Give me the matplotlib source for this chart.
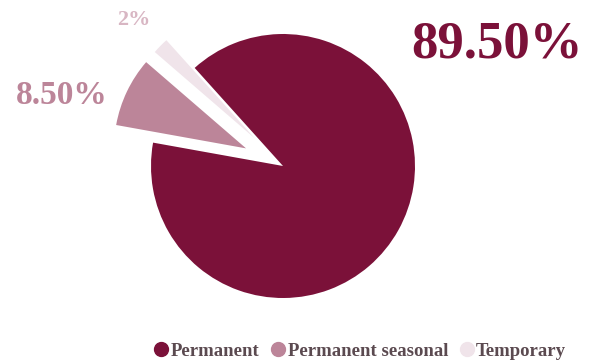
import matplotlib
matplotlib.use("Agg")
import matplotlib.pyplot as plt
from matplotlib.lines import Line2D

# contract type shares (%)
labels = ["Permanent", "Permanent seasonal", "Temporary"]
shares = [89.5, 8.5, 2.0]
share_text = ["89.50%", "8.50%", "2%"]
colors = ["#7b1139", "#bc8599", "#f0e4ea"]
text_colors = ["#7b1139", "#bc8599", "#d8b6c3"]

plt.rcParams["font.family"] = ["Liberation Serif", "DejaVu Serif"]
plt.rcParams["font.weight"] = "bold"

W, H = 591, 362
fig = plt.figure(figsize=(W / 100, H / 100), dpi=100)
ax = fig.add_axes([0, 0, 1, 1])

ax.pie(shares, colors=colors, startangle=132, counterclock=False,
       explode=[0, 0.31, 0.3], radius=1.0,
       wedgeprops={"linewidth": 0})

# pie centre at (283, 166) px with a radius of 132 px
r_px = 132.0
cx, cy = 283.0, 166.0
ax.set_xlim(-cx / r_px, (W - cx) / r_px)
ax.set_ylim(-(H - cy) / r_px, cy / r_px)
ax.set_aspect("equal")
ax.axis("off")

# value labels
fig.text(497 / W, 1 - 45 / H, share_text[0], color=text_colors[0],
         fontsize=38, ha="center", va="center")
fig.text(62 / W, 1 - 96 / H, share_text[1], color=text_colors[1],
         fontsize=24, ha="center", va="center")
fig.text(134 / W, 1 - 20 / H, share_text[2], color=text_colors[2],
         fontsize=16, ha="center", va="center")

handles = [Line2D([], [], marker="o", linestyle="none", markersize=10,
                  markerfacecolor=c, markeredgecolor=c) for c in colors]
fig.legend(handles, labels, loc="center", bbox_to_anchor=(359 / W, 1 - 351 / H),
           ncol=3, frameon=False, handletextpad=0.0, columnspacing=0.5,
           handlelength=1.0, prop={"size": 13.5, "weight": "bold"},
           labelcolor="#5b4a50")

fig.savefig("out.png", dpi=100)
